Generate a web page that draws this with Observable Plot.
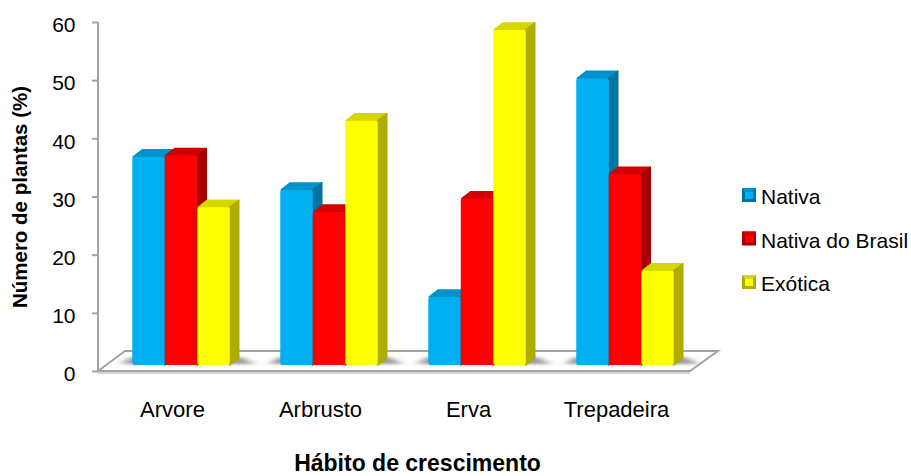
<!DOCTYPE html>
<html>
<head>
<meta charset="utf-8">
<script src="https://cdn.jsdelivr.net/npm/d3@7"></script>
<script src="https://cdn.jsdelivr.net/npm/@observablehq/plot@0.6"></script>
<style>
  html, body { margin: 0; background: #fff; }
  svg { display: block; }
</style>
</head>
<body>
<div id="chart"></div>
<script>
// Growth habit of plants by origin (%)
const habits = ["Arvore", "Arbrusto", "Erva", "Trepadeira"];
const nativa = [35.8, 30.1, 11.7, 49.3];
const nativaBrasil = [36.0, 26.3, 28.6, 32.8];
const exotica = [27.1, 42.0, 57.6, 16.2];
const seriesNames = ["Nativa", "Nativa do Brasil", "Exótica"];
const faceColors = ["#00b0f0", "#ff0000", "#ffff00"];
const topColors = ["#0092c8", "#d20000", "#d6d600"];
const sideColors = ["#0074a0", "#a80000", "#adad00"];
const yTicks = [0, 10, 20, 30, 40, 50, 60];

const seriesValues = [nativa, nativaBrasil, exotica];
const FONT = "'Liberation Sans', Arial, sans-serif";
const AXIS_GREY = "#a3a3a3";
const NS = "http://www.w3.org/2000/svg";

// Extrusion of every column and of the floor, in pixels
const depth = {dx: 9, dy: -7};
const floorDepth = {dx: 27, dy: -20};
const columnLift = {dx: 9, dy: -6};
const columnWidth = 32.5;

function el(parent, tag, attrs, text) {
  const node = document.createElementNS(NS, tag);
  for (const k in attrs) node.setAttribute(k, attrs[k]);
  if (text != null) node.textContent = text;
  parent.appendChild(node);
  return node;
}

// Adds the top and side faces behind each front face drawn by barY
function extrude(s) {
  return (index, scales, values, dimensions, context, next) => {
    const g = next(index, scales, values, dimensions, context);
    for (const rect of [...g.querySelectorAll("rect")]) {
      const x = +rect.getAttribute("x"), y = +rect.getAttribute("y");
      const w = +rect.getAttribute("width"), h = +rect.getAttribute("height");
      const {dx, dy} = depth;
      const face = (pts, color) => {
        const p = el(g, "polygon", {
          points: pts.map((q) => q.join(",")).join(" "),
          fill: color, stroke: color, "stroke-width": 1.5, "stroke-linejoin": "round"
        });
        g.insertBefore(p, rect);
      };
      face([[x + 1, y], [x + dx + 1, y + dy], [x + w + dx, y + dy], [x + w, y]], topColors[s]);
      face([[x + w, y], [x + w + dx, y + dy], [x + w + dx, y + h + dy], [x + w, y + h]], sideColors[s]);
      rect.setAttribute("rx", 2);
    }
    return g;
  };
}

// Floor of the chart with the soft shadow each group casts on it
function floor(index, {x, y}) {
  const g = document.createElementNS(NS, "g");
  const defs = el(g, "defs", {});
  const blur = el(defs, "filter", {id: "soft", x: "-30%", y: "-50%", width: "160%", height: "200%"});
  el(blur, "feGaussianBlur", {stdDeviation: "4 1.5"});
  const x0 = x.range()[0], x1 = x.range()[1], y0 = y(0);
  el(g, "line", {x1: x0, x2: x1, y1: y0 + 2, y2: y0 + 2, stroke: "#d4d4d4", "stroke-width": 2});
  el(g, "polygon", {
    points: [[x0, y0], [x0 + floorDepth.dx, y0 + floorDepth.dy], [x1 + floorDepth.dx + 1, y0 + floorDepth.dy], [x1, y0]].join(" "),
    fill: "#fff", stroke: AXIS_GREY, "stroke-width": 2
  });
  for (const h of habits) {
    const c = x(h) + x.bandwidth() / 2 + columnLift.dx;
    el(g, "polygon", {
      points: [[c - 60, y0 - 7], [c - 50, y0 - 14], [c + 60, y0 - 14], [c + 74, y0 - 7]].join(" "),
      fill: "#9a9a9a", filter: "url(#soft)"
    });
  }
  return g;
}

// Vertical axis line on the left of the plot
function axisLine(index, {x, y}) {
  const g = document.createElementNS(NS, "g");
  el(g, "line", {x1: x.range()[0], x2: x.range()[0], y1: y(60), y2: y(0), stroke: AXIS_GREY, "stroke-width": 2});
  return g;
}

// Legend with bevelled colour keys
function legend() {
  const g = document.createElementNS(NS, "g");
  seriesNames.forEach((name, i) => {
    const top = 188 + i * 43.5;
    el(g, "rect", {x: 742, y: top, width: 14, height: 14, fill: sideColors[i]});
    el(g, "polygon", {points: `742,${top} 756,${top} 752,${top + 5} 746,${top + 5}`, fill: topColors[i]});
    el(g, "rect", {x: 745, y: top + 4, width: 8, height: 7, fill: faceColors[i]});
    el(g, "text", {x: 761, y: top + 16, "text-anchor": "start", "font-family": FONT, "font-size": 21, fill: "#000"}, name);
  });
  return g;
}

const chart = Plot.plot({
  width: 911,
  height: 476,
  marginLeft: 98,
  marginRight: 221,
  marginTop: 22,
  marginBottom: 105,
  style: {background: "#fff", fontFamily: FONT, color: "#000"},
  x: {type: "band", domain: habits, padding: 0, round: false},
  y: {domain: [0, 60]},
  marks: [
    floor,
    axisLine,
    Plot.axisY({
      ticks: yTicks, tickSize: 0, tickPadding: 23, fontSize: 21, dy: 3, label: null
    }),
    Plot.tickY(yTicks, {
      y: (d) => d, frameAnchor: "left", stroke: AXIS_GREY, strokeWidth: 2,
      render: (index, scales, values, dimensions, context, next) => {
        const g = next(index, scales, values, dimensions, context);
        for (const line of g.querySelectorAll("line")) {
          line.setAttribute("x1", dimensions.marginLeft - 6);
          line.setAttribute("x2", dimensions.marginLeft);
        }
        return g;
      }
    }),
    Plot.axisX({tickSize: 0, tickPadding: 30, fontSize: 22, label: null}),
    Plot.text(["Número de plantas (%)"], {
      frameAnchor: "left", dx: -78, rotate: -90, textAnchor: "middle",
      fontSize: 20.5, fontWeight: "bold", fill: "#000"
    }),
    Plot.text(["Hábito de crescimento"], {
      frameAnchor: "bottom", dx: 23, dy: 99, fontSize: 23, fontWeight: "bold", fill: "#000"
    }),
    ...seriesValues.map((values, s) => Plot.barY(habits, {
      x: (d) => d,
      y: (d, i) => values[i],
      fill: faceColors[s],
      insetLeft: (148 - columnWidth) / 2,
      insetRight: (148 - columnWidth) / 2,
      dx: columnLift.dx + (s - 1) * columnWidth,
      dy: columnLift.dy,
      render: extrude(s)
    })),
    legend
  ]
});
document.getElementById("chart").appendChild(chart);
</script>
</body>
</html>
